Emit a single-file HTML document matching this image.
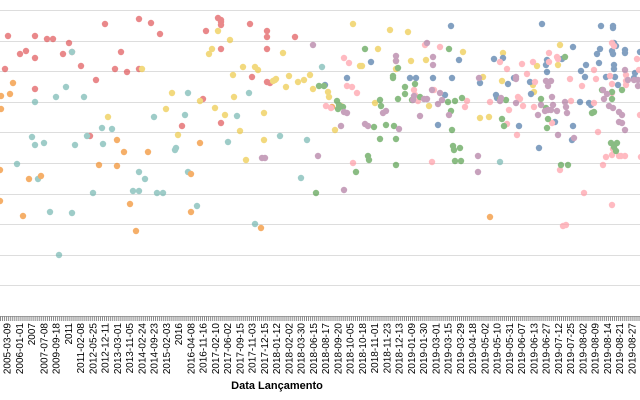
<!DOCTYPE html>
<html><head><meta charset="utf-8"><style>
html,body{margin:0;padding:0;background:#fff;width:640px;height:400px;overflow:hidden}
svg{display:block;font-family:"Liberation Sans",sans-serif}
</style></head><body>
<svg id="s" width="640" height="400" xmlns="http://www.w3.org/2000/svg">
<g id="grid" stroke="#ddd" stroke-width="1"></g>
<g id="ticks" stroke="#888" stroke-width="1"></g>
<g id="labels" font-size="10" fill="#000"></g>
<g id="pts" opacity="0.7"></g>
<text x="277" y="389" font-size="11" font-weight="bold" text-anchor="middle" fill="#000">Data Lançamento</text>
</svg>
<script>
var NS="http://www.w3.org/2000/svg";
function el(p,t,a,txt){var e=document.createElementNS(NS,t);for(var k in a)e.setAttribute(k,a[k]);if(txt)e.textContent=txt;document.getElementById(p).appendChild(e);}
[10,41,71,102,132,163,194,224,255,285].forEach(function(y){el('grid','line',{x1:0,x2:640,y1:y+.5,y2:y+.5});});
el('ticks','line',{x1:0,x2:640,y1:316.5,y2:316.5,stroke:'#aaa'});
for(var x=0.5;x<640;x+=2.04){el('ticks','line',{x1:x,x2:x,y1:316,y2:321});}
var L=["2005-03-09","2006-01-01","2007","2007-07-08","2009-09-18","2011","2011-02-08","2012-05-25","2012-12-11","2013-03-01","2013-11-05","2014-02-24","2014-09-23","2015-02-03","2016","2016-04-08","2016-11-16","2017-02-10","2017-06-02","2017-09-15","2017-11-03","2017-12-15","2018-01-12","2018-02-02","2018-03-30","2018-06-15","2018-08-17","2018-09-20","2018-10-05","2018-10-18","2018-11-01","2018-11-23","2018-12-13","2019-01-09","2019-01-30","2019-03-01","2019-03-15","2019-03-29","2019-04-18","2019-05-02","2019-05-10","2019-05-31","2019-06-07","2019-06-13","2019-06-27","2019-07-12","2019-07-25","2019-08-02","2019-08-09","2019-08-14","2019-08-21","2019-08-27"];
L.forEach(function(t,i){var x=7+i*12.25+3.5;el('labels','text',{transform:'translate('+x+',323) rotate(-90)','text-anchor':'end'},t);});
var P={
"#e15759":[[8,36],[35,36],[47,39],[53,39],[69,43],[20,54],[26,51],[35,58],[63,54],[72,52],[81,66],[105,24],[139,19],[151,23],[160,34],[206,31],[221,20],[221,22],[221,25],[221,49],[5,69],[35,89],[96,80],[115,69],[121,52],[127,72],[139,69],[252,77],[267,31],[267,37],[267,49],[267,82],[270,83],[295,37],[203,99],[182,126],[221,123],[90,136],[218,18],[250,24]],
"#edc948":[[218,31],[142,69],[230,40],[212,49],[209,54],[233,75],[243,67],[255,67],[258,70],[234,97],[172,93],[166,109],[215,108],[225,115],[200,101],[289,76],[275,80],[273,81],[276,79],[283,53],[286,87],[298,82],[304,80],[310,75],[313,89],[264,113],[240,131],[264,140],[178,135],[108,117],[246,160],[353,24],[390,30],[408,32],[378,49],[360,66],[362,66],[396,61],[396,69],[411,61],[426,60],[375,103],[429,106],[335,130],[328,92],[329,97],[341,106],[483,77],[503,53],[502,81],[480,118],[560,45],[558,65],[537,66],[533,85],[534,92],[463,52],[489,117]],
"#76b7b2":[[72,52],[66,87],[84,97],[35,102],[56,97],[188,93],[154,117],[185,115],[237,116],[249,93],[32,137],[35,145],[44,143],[75,145],[87,136],[102,128],[112,129],[103,144],[176,148],[228,142],[280,136],[307,140],[17,164],[38,179],[50,212],[72,213],[59,255],[145,179],[133,191],[139,191],[93,193],[139,172],[157,193],[163,193],[188,172],[197,206],[255,224],[301,178],[175,150],[322,67],[500,162]],
"#f28e2b":[[13,83],[10,94],[1,96],[1,109],[117,140],[124,152],[148,152],[200,143],[99,165],[29,179],[41,176],[117,166],[23,216],[130,204],[136,231],[191,174],[191,212],[261,228],[0,170],[0,201],[332,107],[490,217]],
"#4e79a7":[[451,26],[542,24],[601,26],[613,26],[613,28],[371,62],[459,60],[494,59],[503,58],[547,60],[562,59],[573,47],[586,65],[581,71],[597,54],[599,63],[600,49],[614,43],[616,46],[612,51],[613,54],[625,50],[625,53],[410,78],[416,78],[433,78],[452,78],[480,83],[508,84],[514,78],[530,82],[546,65],[547,72],[585,77],[580,102],[589,103],[606,77],[615,77],[634,78],[347,78],[445,95],[496,95],[497,98],[519,126],[531,94],[573,126],[555,122],[572,140],[539,148],[325,85],[438,125],[591,105],[614,65],[614,69],[635,73],[618,85],[640,52]],
"#ff9da7":[[344,58],[349,63],[347,86],[425,45],[440,47],[432,162],[326,106],[331,108],[352,87],[357,93],[414,90],[415,95],[418,101],[434,90],[467,101],[465,107],[500,62],[507,69],[522,64],[527,74],[533,62],[535,82],[549,62],[557,57],[558,59],[549,53],[570,79],[571,101],[582,86],[594,70],[596,79],[594,103],[612,43],[614,46],[610,76],[612,84],[612,93],[626,85],[626,81],[639,70],[637,59],[640,115],[552,123],[507,124],[509,110],[523,106],[518,97],[520,99],[490,102],[534,107],[598,132],[606,157],[612,155],[613,149],[615,150],[621,156],[517,135],[603,165],[353,163],[560,170],[584,193],[612,205],[619,156],[563,226],[566,225],[625,156],[641,157],[626,75]],
"#59a14f":[[365,49],[449,49],[398,68],[393,76],[393,78],[415,84],[405,87],[462,98],[420,97],[398,99],[412,100],[448,102],[506,100],[500,99],[541,99],[565,57],[546,108],[548,119],[547,128],[592,113],[594,112],[602,90],[622,90],[617,143],[614,147],[616,151],[380,100],[386,125],[337,101],[338,109],[380,139],[396,139],[455,101],[451,111],[452,130],[453,146],[454,150],[460,148],[502,119],[504,126],[405,94],[568,165],[374,127],[394,126],[611,143],[612,99],[612,92],[324,86],[319,86],[339,105],[381,106],[343,107],[369,160],[356,172],[455,161],[461,161],[316,193],[368,156],[396,165],[561,165]],
"#b07aa1":[[313,45],[262,158],[265,158],[427,43],[396,56],[396,61],[433,57],[433,65],[432,90],[440,93],[427,99],[424,99],[449,115],[442,100],[438,104],[347,113],[383,113],[386,111],[368,126],[365,124],[399,129],[413,100],[414,96],[420,116],[479,78],[546,81],[548,86],[551,81],[565,102],[566,107],[548,110],[551,110],[552,97],[553,105],[557,111],[558,135],[567,113],[574,138],[516,79],[516,77],[516,103],[538,115],[541,105],[545,111],[603,90],[604,99],[607,94],[609,106],[613,108],[619,112],[622,115],[619,122],[622,123],[625,130],[638,80],[638,86],[628,80],[625,70],[634,80],[500,101],[501,98],[341,126],[344,112],[318,156],[478,156],[344,190],[478,172]]
};
for(var c in P)P[c].forEach(function(p){el('pts','circle',{cx:p[0],cy:p[1],r:3.2,fill:c});});
</script>
</body></html>
